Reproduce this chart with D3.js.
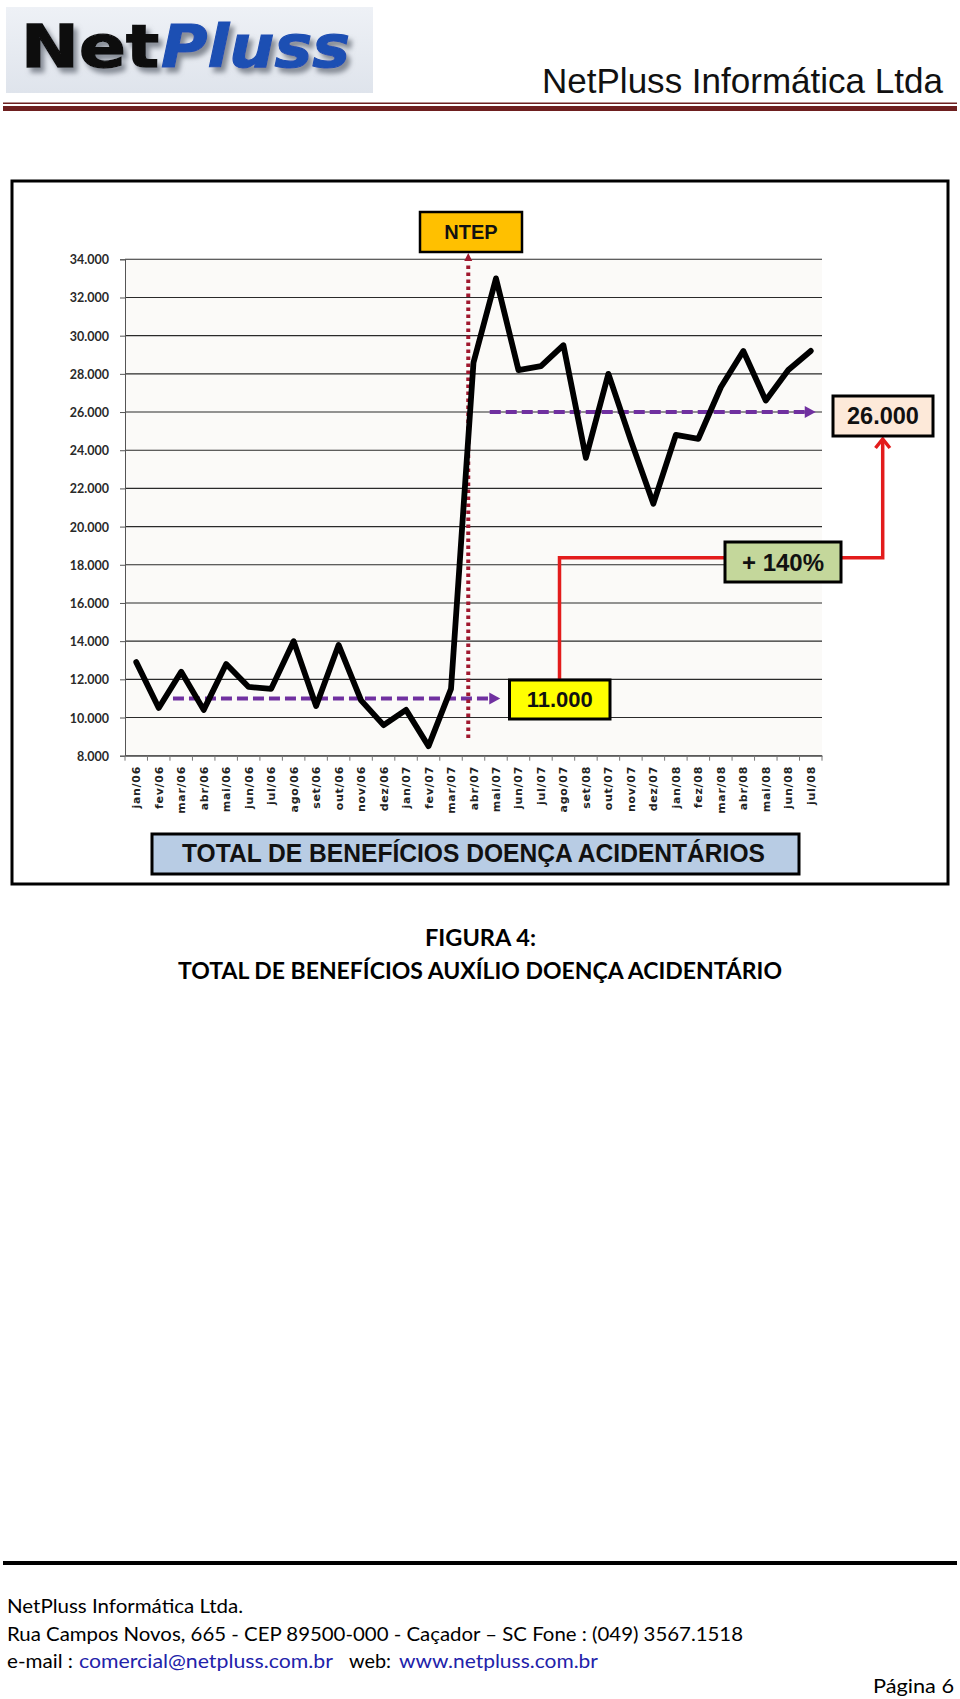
<!DOCTYPE html>
<html>
<head>
<meta charset="utf-8">
<script src="https://cdn.jsdelivr.net/npm/d3@7"></script>
<style>
  html, body { margin: 0; padding: 0; background: #fff; }
  svg { display: block; }
</style>
</head>
<body>
<svg id="page" width="960" height="1699"></svg>
<script>
// ---------- DATA ----------
const months = ["jan/06","fev/06","mar/06","abr/06","mai/06","jun/06","jul/06","ago/06","set/06","out/06","nov/06","dez/06",
                "jan/07","fev/07","mar/07","abr/07","mai/07","jun/07","jul/07","ago/07","set/08","out/07","nov/07","dez/07",
                "jan/08","fez/08","mar/08","abr/08","mai/08","jun/08","jul/08"];
const values = [12900,10500,12400,10400,12800,11600,11500,14000,10600,13800,10900,9600,
                10400,8500,11500,28600,33000,28200,28400,29500,23600,28000,24500,21200,
                24800,24600,27300,29200,26600,28200,29200];
const yTicks = [8000,10000,12000,14000,16000,18000,20000,22000,24000,26000,28000,30000,32000,34000];
const avgBefore = 11000;
const avgAfter = 26000;
const eventLabel = "NTEP";
const eventMonth = "abr/07";
const growthLabel = "+ 140%";
const chartTitle = "TOTAL DE BENEFÍCIOS DOENÇA ACIDENTÁRIOS";
const captionLines = ["FIGURA 4:", "TOTAL DE BENEFÍCIOS AUXÍLIO DOENÇA ACIDENTÁRIO"];

// ---------- SETUP ----------
const svg = d3.select("#page");
const br = d3.formatLocale({decimal: ",", thousands: ".", grouping: [3], currency: ["R$", ""]});
const fmt = br.format(",.0f");

const defs = svg.append("defs");
const lg = defs.append("linearGradient").attr("id","logoBg").attr("x1",0).attr("y1",0).attr("x2",0).attr("y2",1);
lg.append("stop").attr("offset","0%").attr("stop-color","#eef1f6");
lg.append("stop").attr("offset","100%").attr("stop-color","#dfe4ec");
const sh = defs.append("filter").attr("id","shadow").attr("x","-10%").attr("y","-20%").attr("width","130%").attr("height","170%");
sh.append("feDropShadow").attr("dx",4).attr("dy",5).attr("stdDeviation",2.5)
  .attr("flood-color","#7a808a").attr("flood-opacity",0.9);

// ---------- HEADER ----------
svg.append("rect").attr("x",6).attr("y",7).attr("width",367).attr("height",86).attr("fill","url(#logoBg)");
const logo = svg.append("g").attr("font-family","DejaVu Sans, sans-serif").attr("font-weight","bold")
  .attr("font-size",58).attr("filter","url(#shadow)");
logo.append("text").attr("x",21).attr("y",67).attr("textLength",138).attr("lengthAdjust","spacingAndGlyphs")
    .attr("fill","#111").attr("stroke","#111").attr("stroke-width",1.4).text("Net");
logo.append("text").attr("x",161).attr("y",67).attr("textLength",189).attr("lengthAdjust","spacingAndGlyphs")
    .attr("font-style","italic").attr("fill","#1f4fb3").attr("stroke","#1f4fb3").attr("stroke-width",1.1).text("Pluss");

svg.append("text").attr("x",943).attr("y",93).attr("text-anchor","end")
   .attr("font-family","Liberation Sans Narrow, Arial Narrow, sans-serif").attr("font-size",35)
   .attr("textLength",401).attr("lengthAdjust","spacingAndGlyphs").attr("fill","#111")
   .text("NetPluss Informática Ltda");
svg.append("rect").attr("x",3).attr("y",102.5).attr("width",954).attr("height",1.5).attr("fill","#6e2020");
svg.append("rect").attr("x",3).attr("y",106).attr("width",954).attr("height",5).attr("fill","#6e1f1f");

// ---------- CHART FRAME ----------
svg.append("rect").attr("x",12).attr("y",181).attr("width",936).attr("height",703)
   .attr("fill","#fff").attr("stroke","#000").attr("stroke-width",3);

const x = d3.scaleBand().domain(months).range([125, 822]).paddingInner(0).paddingOuter(0);
const y = d3.scaleLinear().domain([8000, 34000]).range([755.7, 259.3]);
const cx = m => x(m) + x.bandwidth() / 2;

svg.append("rect").attr("x",125).attr("y",y(34000)).attr("width",697).attr("height",y(8000)-y(34000)).attr("fill","#fbfaf8");

// gridlines
svg.append("g").selectAll("line").data(yTicks).join("line")
   .attr("x1",125).attr("x2",822).attr("y1",d=>y(d)).attr("y2",d=>y(d))
   .attr("stroke","#2a2a2a").attr("stroke-width",1.1);

// y axis
const yAxis = svg.append("g").attr("transform","translate(125,0)")
   .call(d3.axisLeft(y).tickValues(yTicks).tickFormat(fmt).tickSize(5).tickPadding(11));
yAxis.select(".domain").attr("stroke","#555");
yAxis.selectAll(".tick line").attr("stroke","#555");
yAxis.selectAll("text").attr("font-family","Lato, sans-serif").attr("font-weight","bold")
     .attr("font-size",12.5).attr("fill","#2a2a2a").attr("dy","0.36em");

// x axis
const xAxis = svg.append("g").attr("transform",`translate(0,${y(8000)})`)
   .call(d3.axisBottom(x).tickSize(0).tickFormat(""));
xAxis.select(".domain").attr("stroke","#555");
svg.append("g").selectAll("line").data(d3.range(months.length + 1)).join("line")
   .attr("x1",i=>125 + i*x.bandwidth()).attr("x2",i=>125 + i*x.bandwidth())
   .attr("y1",y(8000)).attr("y2",y(8000)+5).attr("stroke","#777").attr("stroke-width",1);
svg.append("g").selectAll("text").data(months).join("text")
   .attr("transform",m=>`translate(${cx(m)+4},766) rotate(-90)`)
   .attr("text-anchor","end").attr("font-family","DejaVu Sans, sans-serif").attr("font-weight","bold")
   .attr("font-size",11).attr("letter-spacing",0.7).attr("fill","#222").text(m=>m);

// ---------- ANNOTATIONS (under line) ----------
const purple = "#7030a0";
function arrowLine(x1, x2, yy) {
  svg.append("line").attr("x1",x1).attr("x2",x2-9).attr("y1",yy).attr("y2",yy)
     .attr("stroke",purple).attr("stroke-width",4).attr("stroke-dasharray","11,5");
  svg.append("path").attr("d",`M${x2},${yy} L${x2-11},${yy-6} L${x2-11},${yy+6} Z`).attr("fill",purple);
}
arrowLine(x("mar/06") + 3, x("jun/07") - 7, y(avgBefore));
arrowLine(x("mai/07") + 5, cx("jul/08") + 5, y(avgAfter));

// NTEP dotted line
const ex = x(eventMonth) + 6;
svg.append("line").attr("x1",ex).attr("x2",ex).attr("y1",738).attr("y2",262)
   .attr("stroke","#a0182e").attr("stroke-width",4).attr("stroke-dasharray","3.5,3.5");
svg.append("path").attr("d",`M${ex},253 L${ex-4},261 L${ex+4},261 Z`).attr("fill","#a0182e");

// ---------- DATA LINE ----------
const line = d3.line().x((d,i)=>cx(months[i])).y(d=>y(d));
svg.append("path").datum(values).attr("d",line).attr("fill","none")
   .attr("stroke","#000").attr("stroke-width",5.8).attr("stroke-linejoin","round").attr("stroke-linecap","round");

// ---------- RED CONNECTOR ----------
const red = "#e31c1c";
svg.append("path").attr("d","M559.5,680 V557.7 H725 M841,557.7 H882.7 V440")
   .attr("fill","none").attr("stroke",red).attr("stroke-width",3.5);
svg.append("path").attr("d","M875.5,448 L882.7,439 L889.9,448").attr("fill","none")
   .attr("stroke",red).attr("stroke-width",3.5);

// ---------- LABEL BOXES ----------
function box(x0, y0, w, h, fill, label, fs, sw) {
  svg.append("rect").attr("x",x0).attr("y",y0).attr("width",w).attr("height",h)
     .attr("fill",fill).attr("stroke","#000").attr("stroke-width",sw);
  svg.append("text").attr("x",x0+w/2).attr("y",y0+h/2).attr("dy","0.36em").attr("text-anchor","middle")
     .attr("font-family","Liberation Sans, Arial, sans-serif").attr("font-weight","bold")
     .attr("font-size",fs).attr("fill","#111").text(label);
}
box(420, 212, 102, 40, "#ffc000", eventLabel, 20, 2.5);
box(509.5, 680, 100.5, 39, "#ffff00", fmt(avgBefore), 22, 3);
box(725, 542, 116, 40, "#c4d79b", growthLabel, 24, 3);
box(833, 396, 100, 40, "#fde9d9", fmt(avgAfter), 23.5, 3);

// ---------- CHART TITLE BOX ----------
svg.append("rect").attr("x",152).attr("y",834).attr("width",647).attr("height",40)
   .attr("fill","#b8cce4").attr("stroke","#000").attr("stroke-width",3);
svg.append("text").attr("x",182).attr("y",862).attr("font-family","Liberation Sans, Arial, sans-serif")
   .attr("font-weight","bold").attr("font-size",25).attr("textLength",583).attr("lengthAdjust","spacingAndGlyphs")
   .attr("fill","#111").text(chartTitle);

// ---------- CAPTION ----------
svg.append("text").attr("x",480.5).attr("y",946).attr("text-anchor","middle")
   .attr("font-family","Lato, sans-serif").attr("font-weight","bold").attr("font-size",23)
   .attr("textLength",111).attr("lengthAdjust","spacingAndGlyphs").attr("fill","#000").text(captionLines[0]);
svg.append("text").attr("x",480).attr("y",979).attr("text-anchor","middle")
   .attr("font-family","Lato, sans-serif").attr("font-weight","bold").attr("font-size",23)
   .attr("textLength",604).attr("lengthAdjust","spacingAndGlyphs").attr("fill","#000").text(captionLines[1]);

// ---------- FOOTER ----------
svg.append("rect").attr("x",3).attr("y",1561).attr("width",954).attr("height",4).attr("fill","#000");
const ft = svg.append("g").attr("font-family","Lato, sans-serif").attr("font-size",20).attr("fill","#000");
function ftext(xx, yy, s, w, col) {
  ft.append("text").attr("x",xx).attr("y",yy).attr("textLength",w).attr("lengthAdjust","spacingAndGlyphs")
    .attr("fill",col || "#000").text(s);
}
ftext(7, 1613, "NetPluss Informática Ltda.", 236);
ftext(7, 1641, "Rua Campos Novos, 665 - CEP 89500-000 -  Caçador – SC   Fone : (049) 3567.1518", 736);
ftext(7, 1668, "e-mail :", 66);
ftext(79, 1668, "comercial@netpluss.com.br", 254, "#2222aa");
ftext(349, 1668, "web:", 42);
ftext(399, 1668, "www.netpluss.com.br", 199, "#2222aa");
ft.append("text").attr("x",954).attr("y",1693).attr("text-anchor","end").attr("textLength",81)
  .attr("lengthAdjust","spacingAndGlyphs").text("Página 6");
</script>
</body>
</html>
